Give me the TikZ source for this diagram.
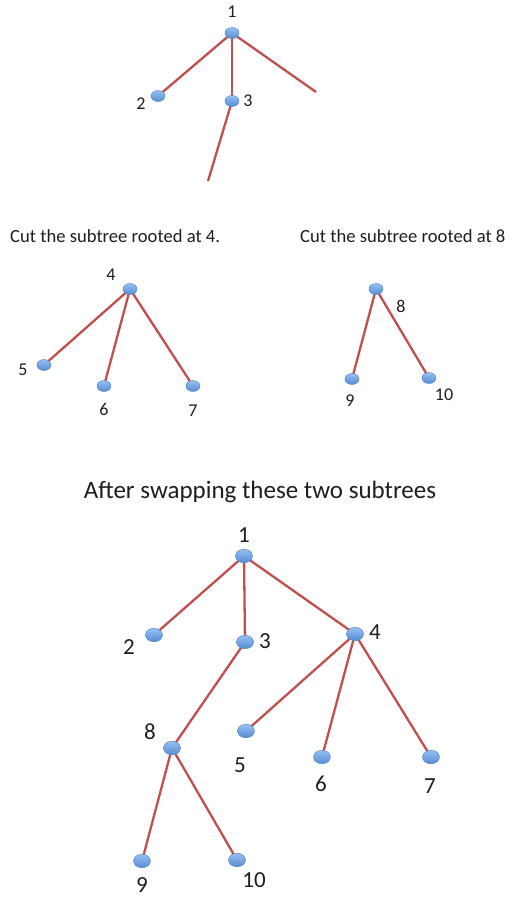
\documentclass[tikz,border=0pt]{standalone}
\usepackage{fontspec}
\setmainfont{Carlito}
\usetikzlibrary{shapes.geometric}
\pgfdeclarelayer{bg}
\pgfsetlayers{bg,main}
\definecolor{edgered}{RGB}{192,80,77}
\definecolor{balltop}{RGB}{150,192,242}
\definecolor{ballbot}{RGB}{85,140,212}
\definecolor{ballline}{RGB}{80,128,195}
\definecolor{txt}{RGB}{30,30,30}
\tikzset{
  ball/.style={ellipse, inner sep=0pt, minimum width=14pt, minimum height=11pt,
    top color=balltop, bottom color=ballbot, draw=ballline, line width=0.4pt},
  bigball/.style={ball, minimum width=17pt, minimum height=13.5pt},
  lbl/.style={text=txt, font=\fontsize{18}{20}\selectfont, inner sep=0pt},
  biglbl/.style={text=txt, font=\fontsize{23}{26}\selectfont, inner sep=0pt},
  edge/.style={draw=edgered, line width=2.3pt},
  caption/.style={text=txt, font=\fontsize{18.6}{22}\selectfont, inner sep=0pt},
  bigcaption/.style={text=txt, font=\fontsize{25}{29}\selectfont, inner sep=0pt}
}
\begin{document}
\begin{tikzpicture}[x=1pt,y=-1pt]
\useasboundingbox (0,0) rectangle (527,898);
% top tree
\node[ball] (t1) at (232,33) {};
\node[ball] (t2) at (158,96) {};
\node[ball] (t3) at (232,101) {};
\coordinate (t4) at (316,92);
\coordinate (t8) at (208,181);
\node[lbl] (lt1) at (232,12) {1};
\node[lbl] (lt2) at (141,104) {2};
\node[lbl] (lt3) at (248,101) {3};
% captions
\node[caption, anchor=west] (c4) at (10,236) {Cut the subtree rooted at 4.};
\node[caption, anchor=west] (c8) at (300,236) {Cut the subtree rooted at 8};
% subtree 4
\node[ball] (a4) at (130,289) {};
\node[ball] (a5) at (44,365) {};
\node[ball] (a6) at (104,386) {};
\node[ball] (a7) at (193,386) {};
\node[lbl] (la4) at (111,275) {4};
\node[lbl] (la5) at (23,370) {5};
\node[lbl] (la6) at (104,409) {6};
\node[lbl] (la7) at (193,411) {7};
% subtree 8
\node[ball] (b8) at (376,289) {};
\node[ball] (b9) at (352,379) {};
\node[ball] (b10) at (429,378) {};
\node[lbl] (lb8) at (401,306) {8};
\node[lbl] (lb9) at (350,401) {9};
\node[lbl] (lb10) at (444,395) {10};
% after
\node[bigcaption] (ca) at (260,492) {After swapping these two subtrees};
\node[bigball] (n1) at (244,556) {};
\node[bigball] (n2) at (154,635) {};
\node[bigball] (n3) at (245,642) {};
\node[bigball] (n4) at (355,634) {};
\node[bigball] (n8) at (172,748) {};
\node[bigball] (n5) at (246,731) {};
\node[bigball] (n6) at (322,757) {};
\node[bigball] (n7) at (431,757) {};
\node[bigball] (n9) at (142,861) {};
\node[bigball] (n10) at (237,860) {};
\node[biglbl] (ln1) at (244,535) {1};
\node[biglbl] (ln2) at (129,647) {2};
\node[biglbl] (ln3) at (265,641) {3};
\node[biglbl] (ln4) at (375,632) {4};
\node[biglbl] (ln8) at (150,732) {8};
\node[biglbl] (ln5) at (240,765) {5};
\node[biglbl] (ln6) at (321,784) {6};
\node[biglbl] (ln7) at (430,786) {7};
\node[biglbl] (ln9) at (142,885) {9};
\node[biglbl] (ln10) at (254,880) {10};
\begin{pgfonlayer}{bg}
\draw[edge] (t1.center) -- (t2.center);
\draw[edge] (t1.center) -- (t3.center);
\draw[edge] (t1.center) -- (t4);
\draw[edge] (t3.center) -- (t8);
\draw[edge] (a4.center) -- (a5.center);
\draw[edge] (a4.center) -- (a6.center);
\draw[edge] (a4.center) -- (a7.center);
\draw[edge] (b8.center) -- (b9.center);
\draw[edge] (b8.center) -- (b10.center);
\draw[edge] (n1.center) -- (n2.center);
\draw[edge] (n1.center) -- (n3.center);
\draw[edge] (n1.center) -- (n4.center);
\draw[edge] (n3.center) -- (n8.center);
\draw[edge] (n4.center) -- (n5.center);
\draw[edge] (n4.center) -- (n6.center);
\draw[edge] (n4.center) -- (n7.center);
\draw[edge] (n8.center) -- (n9.center);
\draw[edge] (n8.center) -- (n10.center);
\end{pgfonlayer}
\end{tikzpicture}
\end{document}
